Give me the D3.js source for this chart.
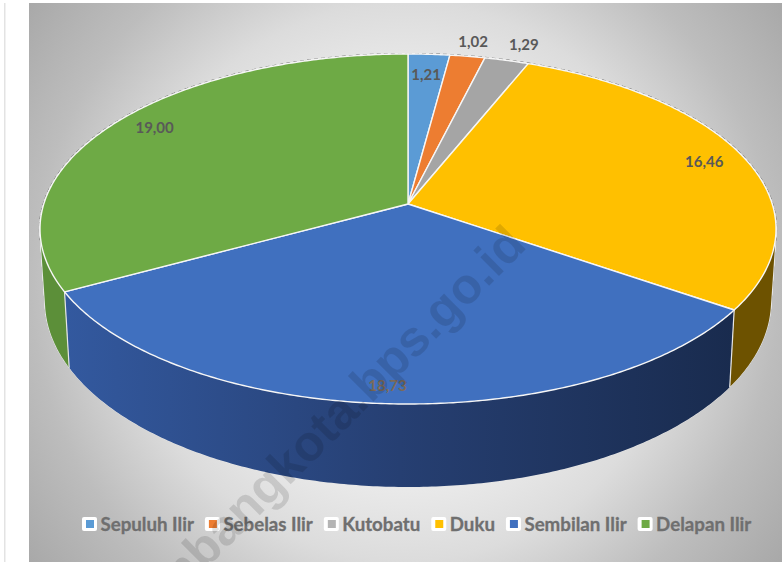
<!DOCTYPE html>
<html>
<head>
<meta charset="utf-8">
<style>
  html, body { margin: 0; padding: 0; background: #fff; }
  svg { display: block; }
</style>
<script src="https://cdn.jsdelivr.net/npm/d3@7"></script>
</head>
<body>
<svg id="chart" width="782" height="562"></svg>
<script>
const categories = ['Sepuluh Ilir', 'Sebelas Ilir', 'Kutobatu', 'Duku', 'Sembilan Ilir', 'Delapan Ilir'];
const values = [1.21, 1.02, 1.29, 16.46, 18.73, 19.00];
const valueLabels = ['1,21', '1,02', '1,29', '16,46', '18,73', '19,00'];
const colors = ['#5b9bd5', '#ed7d31', '#a5a5a5', '#ffc000', '#4070bf', '#6eaa45'];
const labelRadius = [0.85, 1.11, 1.13, 0.88, 0.92, 0.88];
const labelTurn = [0, 0, 1, 0, 0, 1.7]; // degrees
const labelColors = ['#595959', '#595959', '#595959', '#595959', '#7c6a58', '#595959'];

const width = 782, height = 562;
const svg = d3.select('#chart');
const defs = svg.append('defs');

// the pie is drawn in perspective: the hub sits above the middle of the ellipse
const tilt = -0.143;
const xTop = d3.scaleLinear().domain([-1, 1]).range([40, 776]);
const yTop = d3.scaleLinear().domain([-1, 1]).range([54, 404]);
const xBase = d3.scaleLinear().domain([-1, 1]).range([45, 771]);
const yBase = d3.scaleLinear().domain([-1, 1]).range([115, 487]);

function project(angle, r) {
  const x = Math.sin(angle) * r, y = -Math.cos(angle) * r;
  const w = 1 + tilt * y;
  return [x * Math.sqrt(1 - tilt * tilt) / w, (y + tilt) / w];
}

function arcPoints(a0, a1) {
  const n = Math.max(2, Math.ceil((a1 - a0) / 0.01));
  return d3.range(n + 1).map(i => project(a0 + (a1 - a0) * i / n, 1));
}

const lineTop = d3.line().x(d => xTop(d[0])).y(d => yTop(d[1]));

// one quad per arc step, all wound the same way so the fold at the sides stays filled
function wallPath(d) {
  const pts = arcPoints(d.startAngle, d.endAngle);
  return d3.pairs(pts).map(([a, b]) => {
    const quad = [
      [xTop(a[0]), yTop(a[1])], [xTop(b[0]), yTop(b[1])],
      [xBase(b[0]), yBase(b[1])], [xBase(a[0]), yBase(a[1])]
    ];
    if (d3.polygonArea(quad) < 0) quad.reverse();
    return 'M' + quad.join('L') + 'Z';
  }).join('');
}

const pie = d3.pie().value(d => d).sort(null);
const slices = pie(values);

// background
const bg = defs.append('radialGradient').attr('id', 'bg')
  .attr('gradientUnits', 'userSpaceOnUse')
  .attr('cx', 405).attr('cy', 282).attr('r', 480);
[[0, '#f4f4f4'], [0.4, '#ececec'], [0.58, '#dcdcdc'], [0.78, '#bdbdbd'], [1, '#a6a6a6']]
  .forEach(s => bg.append('stop').attr('offset', s[0]).attr('stop-color', s[1]));

svg.append('rect').attr('width', width).attr('height', height).attr('fill', '#fff');
svg.append('rect').attr('x', 4).attr('y', 3).attr('width', 1.5).attr('height', height - 3).attr('fill', '#e3e3e3');
svg.append('rect').attr('x', 29).attr('y', 3).attr('width', width - 29).attr('height', height - 3).attr('fill', 'url(#bg)');

// rough dark rim behind the back edge
svg.append('path')
  .attr('d', lineTop(arcPoints(0, 2 * Math.PI)))
  .attr('fill', 'none')
  .attr('stroke', '#2e2e2e')
  .attr('stroke-width', 2.2)
  .attr('stroke-dasharray', '4 3')
  .attr('opacity', 0.6);

// side walls
const wallFront = defs.append('linearGradient').attr('id', 'wall-front')
  .attr('gradientUnits', 'userSpaceOnUse')
  .attr('x1', 65).attr('x2', 735).attr('y1', 0).attr('y2', 0);
[[0, '#33599f'], [0.5, '#263f72'], [1, '#192b4e']]
  .forEach(s => wallFront.append('stop').attr('offset', s[0]).attr('stop-color', s[1]));
const wallFill = ['#3d6f95', '#8f4a1c', '#636363', '#6d5200', 'url(#wall-front)', '#5c8f39'];

// halo first so only the outer outline of the walls stays light
svg.append('g').selectAll('path')
  .data(slices)
  .enter().append('path')
  .attr('d', wallPath)
  .attr('fill', 'none')
  .attr('stroke', '#e6e6e6')
  .attr('stroke-width', 1);

svg.append('g').selectAll('path')
  .data(slices)
  .enter().append('path')
  .attr('d', wallPath)
  .attr('fill', (d, i) => wallFill[i]);

// light edges where two walls meet
svg.append('g').selectAll('line')
  .data(slices)
  .enter().append('line')
  .attr('x1', d => xTop(project(d.startAngle, 1)[0]))
  .attr('y1', d => yTop(project(d.startAngle, 1)[1]))
  .attr('x2', d => xBase(project(d.startAngle, 1)[0]))
  .attr('y2', d => yBase(project(d.startAngle, 1)[1]))
  .attr('stroke', '#e6e6e6')
  .attr('stroke-width', 1.2);

// top face
svg.append('g').selectAll('path')
  .data(slices)
  .enter().append('path')
  .attr('d', d => {
    const hub = project(0, 0);
    return 'M' + xTop(hub[0]) + ',' + yTop(hub[1]) + 'L' + lineTop(arcPoints(d.startAngle, d.endAngle)).slice(1) + 'Z';
  })
  .attr('fill', (d, i) => colors[i])
  .attr('stroke', '#f6f6f6')
  .attr('stroke-width', 1.4)
  .attr('stroke-linejoin', 'round');

// value labels
function labelPos(d, i) {
  const mid = (d.startAngle + d.endAngle) / 2 + labelTurn[i] * Math.PI / 180;
  return project(mid, labelRadius[i]);
}

svg.append('g').selectAll('text')
  .data(slices)
  .enter().append('text')
  .attr('x', (d, i) => xTop(labelPos(d, i)[0]))
  .attr('y', (d, i) => yTop(labelPos(d, i)[1]))
  .attr('dy', '0.35em')
  .attr('text-anchor', 'middle')
  .style('font-family', 'Lato, sans-serif')
  .style('font-weight', 700)
  .style('font-size', '15px')
  .style('fill', (d, i) => labelColors[i])
  .text((d, i) => valueLabels[i]);

// legend
const legend = svg.append('g').attr('transform', 'translate(82,524)');
let legendX = 0;
categories.forEach((name, i) => {
  const g = legend.append('g').attr('transform', `translate(${legendX},0)`);
  g.append('rect').attr('x', 0).attr('y', -7).attr('width', 15).attr('height', 14).attr('rx', 2).attr('fill', '#fff');
  g.append('rect').attr('x', 4).attr('y', -4).attr('width', 8).attr('height', 8).attr('fill', colors[i] === '#a5a5a5' ? '#b4b4b4' : colors[i]);
  const t = g.append('text')
    .attr('x', 18.5).attr('y', 0).attr('dy', '0.35em')
    .style('font-family', 'Lato, sans-serif')
    .style('font-weight', 700)
    .style('font-size', '18.7px')
    .style('fill', '#6f6f6f')
    .style('stroke', '#6f6f6f')
    .style('stroke-width', 0.3)
    .text(name);
  legendX += 18.5 + t.node().getComputedTextLength() + 11;
});

// watermark
svg.append('text')
  .attr('transform', 'translate(528,247) rotate(-45)')
  .attr('text-anchor', 'end')
  .style('font-family', '"Liberation Sans", sans-serif')
  .style('font-weight', 700)
  .style('font-size', '50px')
  .style('fill', '#000')
  .style('fill-opacity', 0.12)
  .text('palembangkota.bps.go.id');
</script>
</body>
</html>
